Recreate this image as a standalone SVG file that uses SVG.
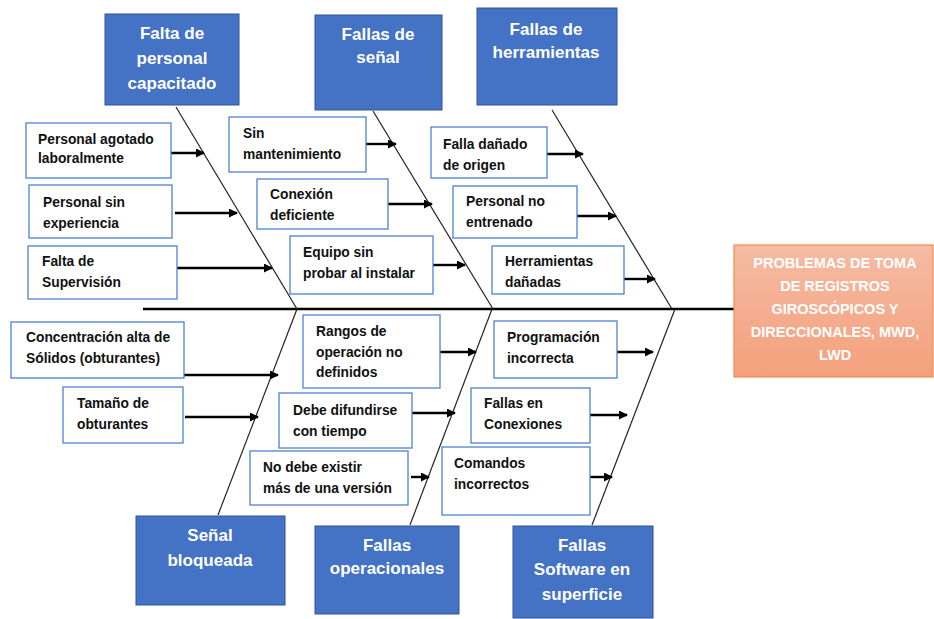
<svg xmlns="http://www.w3.org/2000/svg" width="934" height="619" viewBox="0 0 934 619">
<defs>
<linearGradient id="og" x1="0" y1="0" x2="0" y2="1">
<stop offset="0" stop-color="#F5BBA4"/>
<stop offset="1" stop-color="#F4A07C"/>
</linearGradient>
<marker id="ah" markerWidth="11" markerHeight="10" refX="8" refY="4.5" orient="auto" markerUnits="userSpaceOnUse">
<path d="M0,0 L9,4.5 L0,9 Z" fill="#000"/>
</marker>
<style>
.cat rect{fill:#4472C4;stroke:#2F5597;stroke-width:1}
.cat text{fill:#fff;font-family:"Liberation Sans",Arial,sans-serif;font-weight:bold;font-size:17px;text-anchor:middle}
.cause rect{fill:#fff;stroke:#4F81D0;stroke-width:1.3}
.cause text{fill:#111;font-family:"Liberation Sans",Arial,sans-serif;font-weight:bold;font-size:13.8px}
.bone{stroke:#222;stroke-width:1.2;fill:none}
.arr{stroke:#000;stroke-width:2.4;marker-end:url(#ah)}
.spine{stroke:#000;stroke-width:2.6}
.eff text{fill:#fff;font-family:"Liberation Sans",Arial,sans-serif;font-weight:bold;font-size:14.5px;text-anchor:middle}
</style>
</defs>
<rect width="934" height="619" fill="#fff"/>

<g id="connectors">
<line class="spine" x1="143" y1="309" x2="734" y2="309"/>
<line class="bone" x1="176" y1="107" x2="297" y2="309"/>
<line class="bone" x1="373" y1="111" x2="493" y2="309"/>
<line class="bone" x1="552" y1="110" x2="672" y2="309"/>
<line class="bone" x1="297" y1="309" x2="218" y2="515"/>
<line class="bone" x1="492" y1="309" x2="410" y2="525"/>
<line class="bone" x1="675" y1="309" x2="592" y2="525"/>
<line class="arr" x1="171" y1="153" x2="204" y2="153"/>
<line class="arr" x1="175" y1="213" x2="237" y2="213"/>
<line class="arr" x1="175" y1="268" x2="272" y2="268"/>
<line class="arr" x1="366" y1="144" x2="396" y2="144"/>
<line class="arr" x1="388" y1="204" x2="432" y2="204"/>
<line class="arr" x1="433" y1="265" x2="465" y2="265"/>
<line class="arr" x1="547" y1="154" x2="583" y2="154"/>
<line class="arr" x1="577" y1="216" x2="616" y2="216"/>
<line class="arr" x1="624" y1="279" x2="655" y2="279"/>
<line class="arr" x1="184" y1="375" x2="278" y2="375"/>
<line class="arr" x1="185" y1="417" x2="258" y2="417"/>
<line class="arr" x1="440" y1="352" x2="476" y2="352"/>
<line class="arr" x1="412" y1="413" x2="455" y2="413"/>
<line class="arr" x1="411" y1="477" x2="429" y2="477"/>
<line class="arr" x1="617" y1="352" x2="653" y2="352"/>
<line class="arr" x1="590" y1="415" x2="627" y2="415"/>
<line class="arr" x1="590" y1="477" x2="612" y2="477"/>
</g>

<g id="effect" class="eff">
<rect x="734" y="245" width="199" height="132" fill="url(#og)" stroke="#F08C50" stroke-width="1.2"/>
<text x="835" y="268">PROBLEMAS DE TOMA</text>
<text x="835" y="291">DE REGISTROS</text>
<text x="835" y="314">GIROSCÓPICOS Y</text>
<text x="835" y="337">DIRECCIONALES, MWD,</text>
<text x="835" y="360">LWD</text>
</g>

<g id="cat-personal" class="cat">
<rect x="105" y="14" width="134" height="91"/>
<text x="172" y="39">Falta de</text>
<text x="172" y="64">personal</text>
<text x="172" y="89">capacitado</text>
</g>
<g id="cat-senal" class="cat">
<rect x="315" y="15" width="127" height="95"/>
<text x="378" y="40">Fallas de</text>
<text x="378" y="63">señal</text>
</g>
<g id="cat-herramientas" class="cat">
<rect x="477" y="8" width="140" height="97"/>
<text x="546" y="35">Fallas de</text>
<text x="546" y="58">herramientas</text>
</g>
<g id="cat-bloqueada" class="cat">
<rect x="136" y="516" width="149" height="89"/>
<text x="210" y="541">Señal</text>
<text x="210" y="566">bloqueada</text>
</g>
<g id="cat-operacionales" class="cat">
<rect x="315" y="526" width="144" height="88"/>
<text x="387" y="551">Fallas</text>
<text x="387" y="574">operacionales</text>
</g>
<g id="cat-software" class="cat">
<rect x="513" y="526" width="140" height="92"/>
<text x="582" y="551">Fallas</text>
<text x="582" y="575">Software en</text>
<text x="582" y="600">superficie</text>
</g>

<g id="c-agotado" class="cause">
<rect x="26" y="123" width="145" height="55"/>
<text x="38" y="144">Personal agotado</text>
<text x="38" y="163">laboralmente</text>
</g>
<g id="c-experiencia" class="cause">
<rect x="29" y="185" width="143" height="53"/>
<text x="43" y="207">Personal sin</text>
<text x="43" y="228">experiencia</text>
</g>
<g id="c-supervision" class="cause">
<rect x="28" y="246" width="149" height="53"/>
<text x="42" y="266">Falta de</text>
<text x="42" y="287">Supervisión</text>
</g>
<g id="c-mantenimiento" class="cause">
<rect x="229" y="117" width="137" height="55"/>
<text x="243" y="138">Sin</text>
<text x="243" y="159">mantenimiento</text>
</g>
<g id="c-conexion" class="cause">
<rect x="257" y="179" width="131" height="50"/>
<text x="270" y="199">Conexión</text>
<text x="270" y="220">deficiente</text>
</g>
<g id="c-equipo" class="cause">
<rect x="290" y="236" width="143" height="58"/>
<text x="303" y="257">Equipo sin</text>
<text x="303" y="278">probar al instalar</text>
</g>
<g id="c-origen" class="cause">
<rect x="431" y="127" width="116" height="51"/>
<text x="443" y="149">Falla dañado</text>
<text x="443" y="170">de origen</text>
</g>
<g id="c-entrenado" class="cause">
<rect x="453" y="186" width="124" height="52"/>
<text x="466" y="206">Personal no</text>
<text x="466" y="227">entrenado</text>
</g>
<g id="c-herr-danadas" class="cause">
<rect x="492" y="246" width="132" height="48"/>
<text x="505" y="266">Herramientas</text>
<text x="505" y="287">dañadas</text>
</g>
<g id="c-solidos" class="cause">
<rect x="11" y="322" width="173" height="56"/>
<text x="26" y="342">Concentración alta de</text>
<text x="26" y="363">Sólidos (obturantes)</text>
</g>
<g id="c-tamano" class="cause">
<rect x="63" y="387" width="120" height="56"/>
<text x="77" y="408">Tamaño de</text>
<text x="77" y="429">obturantes</text>
</g>
<g id="c-rangos" class="cause">
<rect x="303" y="315" width="137" height="73"/>
<text x="316" y="336">Rangos de</text>
<text x="316" y="357">operación no</text>
<text x="316" y="377">definidos</text>
</g>
<g id="c-difundirse" class="cause">
<rect x="279" y="393" width="133" height="55"/>
<text x="293" y="415">Debe difundirse</text>
<text x="293" y="436">con tiempo</text>
</g>
<g id="c-version" class="cause">
<rect x="250" y="451" width="158" height="54"/>
<text x="263" y="472">No debe existir</text>
<text x="263" y="493">más de una versión</text>
</g>
<g id="c-programacion" class="cause">
<rect x="494" y="321" width="123" height="57"/>
<text x="507" y="342">Programación</text>
<text x="507" y="363">incorrecta</text>
</g>
<g id="c-conexiones" class="cause">
<rect x="471" y="388" width="119" height="55"/>
<text x="484" y="408">Fallas en</text>
<text x="484" y="429">Conexiones</text>
</g>
<g id="c-comandos" class="cause">
<rect x="442" y="447" width="148" height="68"/>
<text x="454" y="468">Comandos</text>
<text x="454" y="489">incorrectos</text>
</g>
</svg>
